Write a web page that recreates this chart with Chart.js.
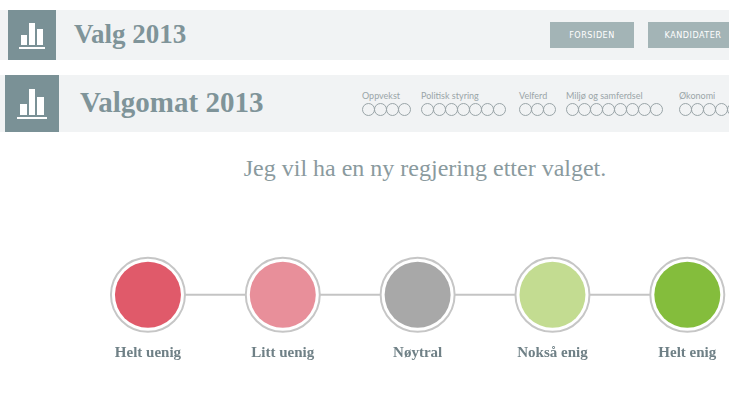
<!DOCTYPE html>
<html lang="no">
<head>
<meta charset="UTF-8">
<title>Valgomat 2013</title>
<script src="https://cdn.jsdelivr.net/npm/chart.js"></script>
<style>
    body { margin: 0; width: 729px; height: 410px; overflow: hidden; background: #fff; font-family: "Liberation Serif", serif; position: relative; }
    .bar { position: absolute; left: 0; width: 729px; background: #f1f3f4; }
    .icon { position: absolute; background: #7a9196; }
    .icon i { position: absolute; bottom: 30%; background: #fff; width: 12%; }
    .icon b { position: absolute; left: 22%; right: 22%; bottom: 22%; height: 4%; background: #fff; }
    .title { position: absolute; color: #7f9499; font-weight: bold; }
    .btn { position: absolute; top: 12px; height: 26px; background: #a3b4b6; color: #fff; font: 9px "DejaVu Sans Condensed", sans-serif; letter-spacing: 0.5px; line-height: 26px; text-align: center; }
    .nav { position: absolute; top: 90px; font: 9px "Lato", sans-serif; color: #9aa5a8; }
    .nav .dots { margin-top: 2px; white-space: nowrap; }
    .nav .dots span { display: inline-block; width: 11px; height: 11px; border: 1px solid #9aa5a8; border-radius: 50%; margin-right: -1px; }
    .question { position: absolute; top: 155px; left: 0; width: 850px; text-align: center; font-size: 24px; color: #8a9a9e; }
    #wrap { position: absolute; left: 0; top: 230px; width: 729px; height: 140px; }
</style>
</head>
<body>
    <div class="bar" style="top:10px;height:50px;">
        <div class="icon" style="left:8px;top:0;width:48px;height:50px;">
            <i style="left:28%;height:20%"></i><i style="left:44%;height:45%"></i><i style="left:60%;height:32%"></i><b></b>
        </div>
        <div class="title" style="left:74px;top:9px;font-size:27px;">Valg 2013</div>
        <div class="btn" style="left:550px;width:84px;">FORSIDEN</div>
        <div class="btn" style="left:648px;width:90px;">KANDIDATER</div>
    </div>
    <div class="bar" style="top:75px;height:57px;">
        <div class="icon" style="left:5px;top:0;width:54px;height:57px;">
            <i style="left:28%;height:20%"></i><i style="left:44%;height:45%"></i><i style="left:60%;height:32%"></i><b></b>
        </div>
        <div class="title" style="left:80px;top:11px;font-size:29px;">Valgomat 2013</div>
    </div>
    <div id="nav"></div>
    <div class="question">Jeg vil ha en ny regjering etter valget.</div>
    <div id="wrap"><canvas id="scale" width="729" height="140"></canvas></div>

<script>
    // topic navigation: name and number of questions
    const topics = ['Oppvekst', 'Politisk styring', 'Velferd', 'Miljø og samferdsel', 'Økonomi'];
    const topicCounts = [4, 7, 3, 8, 5];
    const topicLeft = [362, 421, 519, 566, 679];

    // answer scale
    const answers = ['Helt uenig', 'Litt uenig', 'Nøytral', 'Nokså enig', 'Helt enig'];
    const answerColors = ['#e05a6a', '#e88f9a', '#a8a8a8', '#c3dc91', '#84bd3c'];

    const nav = document.getElementById('nav');
    topics.forEach((t, i) => {
        const d = document.createElement('div');
        d.className = 'nav';
        d.style.left = topicLeft[i] + 'px';
        d.innerHTML = t + '<div class="dots">' + '<span></span>'.repeat(topicCounts[i]) + '</div>';
        nav.appendChild(d);
    });

    const labelPlugin = {
        id: 'labels',
        afterDatasetsDraw(chart) {
            const { ctx, scales } = chart;
            ctx.save();
            ctx.font = 'bold 15px "Liberation Serif", serif';
            ctx.fillStyle = '#6f8086';
            ctx.textAlign = 'center';
            answers.forEach((a, i) => ctx.fillText(a, scales.x.getPixelForValue(i), scales.y.getPixelForValue(0) + 62));
            ctx.restore();
        }
    };

    const pts = answers.map((a, i) => ({ x: i, y: 0 }));
    new Chart(document.getElementById('scale'), {
        type: 'scatter',
        data: {
            datasets: [
                { data: pts, order: 3, showLine: true, borderColor: '#c4c4c4', borderWidth: 2, pointRadius: 0 },
                { data: pts, order: 2, pointRadius: 37, pointBackgroundColor: '#fff', pointBorderColor: '#c6c6c6', pointBorderWidth: 2 },
                { data: pts, order: 1, pointRadius: 33, pointBackgroundColor: answerColors, pointBorderColor: answerColors, pointBorderWidth: 0 }
            ]
        },
        options: {
            responsive: false,
            animation: false,
            layout: { padding: 0 },
            clip: false,
            plugins: { legend: { display: false }, tooltip: { enabled: false } },
            scales: {
                x: { display: false, min: -0.808, max: 4.02 },
                y: { display: false, min: -1.4, max: 1.0 }
            }
        },
        plugins: [labelPlugin]
    });
</script>
</body>
</html>
